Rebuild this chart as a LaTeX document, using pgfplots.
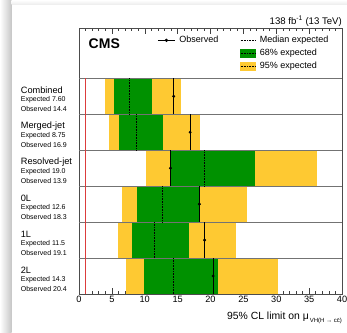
\documentclass[border=0pt]{standalone}
\usepackage{fontspec}
\setmainfont{Liberation Sans}
\usepackage{pgfplots}
\pgfplotsset{compat=1.18}
\definecolor{cmsgreen}{RGB}{0,145,0}
\definecolor{cmsyellow}{RGB}{254,201,50}
\definecolor{lred}{RGB}{220,60,60}
\newcommand{\catlabel}[4]{%
  \node[anchor=west, inner sep=0pt, font=\fontsize{9.2}{10}\selectfont] at (axis cs:-8.87,#1.66) {#2};
  \node[anchor=west, inner sep=0pt, font=\fontsize{7}{8}\selectfont] at (axis cs:-8.87,#1.40) {Expected #3};
  \node[anchor=west, inner sep=0pt, font=\fontsize{7}{8}\selectfont] at (axis cs:-8.87,#1.15) {Observed #4};}
\begin{document}
\begin{tikzpicture}[x=1pt,y=1pt]
\useasboundingbox (0,0) rectangle (347,332);
\fill[white] (0,0) rectangle (347,332);
\shade[left color=white, right color=black!22] (0,0) rectangle (11.5,332);
\shade[top color=white, bottom color=black!8] (11.5,332) rectangle (347,327);
\begin{axis}[
  at={(79pt,38pt)}, anchor=south west,
  scale only axis, width=263pt, height=266pt,
  xmin=0, xmax=40, ymin=0, ymax=7.40,
  clip=false,
  axis line style={black!70, line width=0.6pt},
  xtick={0,5,...,40}, minor x tick num=4,
  ytick={1,2,3,4,5,6}, yticklabels={},
  tick align=inside, xtick pos=both, ytick pos=both,
  major tick length=6pt, minor tick length=3pt,
  tick style={black!75, line width=0.5pt},
  ytick style={black!60},
  xticklabel style={font=\fontsize{9.2}{10}\selectfont, inner sep=1pt, yshift=-1pt},
  /pgf/number format/assume math mode=true,
  legend columns=2,
  legend style={at={(0.298,0.974)}, anchor=north west, draw=none, fill=none,
    font=\fontsize{9}{10}\selectfont, row sep=2.6pt, inner sep=0pt,
    nodes={inner sep=1pt, text height=6.6pt, text depth=1.8pt},
    /tikz/every odd column/.append style={column sep=3pt},
    /tikz/every even column/.append style={column sep=21pt}},
  legend cell align=left,
]
% 95% bands
\addplot[fill=cmsyellow, draw=none, forget plot] coordinates {(3.95,5) (15.5,5) (15.5,6) (3.95,6)} -- cycle;
\addplot[fill=cmsyellow, draw=none, forget plot] coordinates {(4.56,4) (18.4,4) (18.4,5) (4.56,5)} -- cycle;
\addplot[fill=cmsyellow, draw=none, forget plot] coordinates {(10.14,3) (36.25,3) (36.25,4) (10.14,4)} -- cycle;
\addplot[fill=cmsyellow, draw=none, forget plot] coordinates {(6.59,2) (25.55,2) (25.55,3) (6.59,3)} -- cycle;
\addplot[fill=cmsyellow, draw=none, forget plot] coordinates {(5.98,1) (23.9,1) (23.9,2) (5.98,2)} -- cycle;
\addplot[fill=cmsyellow, draw=none, forget plot] coordinates {(7.15,0) (30.2,0) (30.2,1) (7.15,1)} -- cycle;
% 68% bands
\addplot[fill=cmsgreen, draw=none, forget plot] coordinates {(5.37,5) (11.06,5) (11.06,6) (5.37,6)} -- cycle;
\addplot[fill=cmsgreen, draw=none, forget plot] coordinates {(6.08,4) (12.8,4) (12.8,5) (6.08,5)} -- cycle;
\addplot[fill=cmsgreen, draw=none, forget plot] coordinates {(13.84,3) (26.8,3) (26.8,4) (13.84,4)} -- cycle;
\addplot[fill=cmsgreen, draw=none, forget plot] coordinates {(8.87,2) (18.3,2) (18.3,3) (8.87,3)} -- cycle;
\addplot[fill=cmsgreen, draw=none, forget plot] coordinates {(8.1,1) (16.8,1) (16.8,2) (8.1,2)} -- cycle;
\addplot[fill=cmsgreen, draw=none, forget plot] coordinates {(9.89,0) (21.2,0) (21.2,1) (9.89,1)} -- cycle;
% separators
\addplot[black!55, line width=0.6pt, forget plot] coordinates {(0,1) (40,1)};
\addplot[black!55, line width=0.6pt, forget plot] coordinates {(0,2) (40,2)};
\addplot[black!55, line width=0.6pt, forget plot] coordinates {(0,3) (40,3)};
\addplot[black!55, line width=0.6pt, forget plot] coordinates {(0,4) (40,4)};
\addplot[black!55, line width=0.6pt, forget plot] coordinates {(0,5) (40,5)};
\addplot[black!55, line width=0.6pt, forget plot] coordinates {(0,6) (40,6)};
% SM line
\addplot[lred, line width=0.6pt, forget plot] coordinates {(1,0) (1,6)};
% medians
\addplot[black, densely dotted, line width=0.6pt, forget plot] coordinates {(7.60,5) (7.60,6)};
\addplot[black, densely dotted, line width=0.6pt, forget plot] coordinates {(8.75,4) (8.75,5)};
\addplot[black, densely dotted, line width=0.6pt, forget plot] coordinates {(19.0,3) (19.0,4)};
\addplot[black, densely dotted, line width=0.6pt, forget plot] coordinates {(12.6,2) (12.6,3)};
\addplot[black, densely dotted, line width=0.6pt, forget plot] coordinates {(11.5,1) (11.5,2)};
\addplot[black, densely dotted, line width=0.6pt, forget plot] coordinates {(14.3,0) (14.3,1)};
% observed
\addplot[black, line width=0.7pt, forget plot] coordinates {(14.4,5) (14.4,6)};
\addplot[black, line width=0.7pt, forget plot] coordinates {(16.9,4) (16.9,5)};
\addplot[black, line width=0.7pt, forget plot] coordinates {(13.9,3) (13.9,4)};
\addplot[black, line width=0.7pt, forget plot] coordinates {(18.3,2) (18.3,3)};
\addplot[black, line width=0.7pt, forget plot] coordinates {(19.1,1) (19.1,2)};
\addplot[black, line width=0.7pt, forget plot] coordinates {(20.4,0) (20.4,1)};
\addplot[only marks, mark=*, mark size=1.3pt, black, forget plot] coordinates {(14.4,5.5) (16.9,4.5) (13.9,3.5) (18.3,2.5) (19.1,1.5) (20.4,0.5)};
% legend
\addlegendimage{black, line width=0.7pt, legend image code/.code={
  \draw[black, line width=0.7pt] (0pt,0pt) -- (17pt,0pt);
  \fill[black] (8.5pt,0pt) circle (1.3pt);}}
\addlegendentry{Observed}
\addlegendimage{legend image code/.code={
  \draw[black, densely dotted, line width=0.6pt] (0pt,0pt) -- (15pt,0pt);}}
\addlegendentry{Median expected}
\addlegendimage{empty legend}\addlegendentry{}
\addlegendimage{legend image code/.code={
  \fill[cmsgreen] (0pt,-4pt) rectangle (15pt,4pt);
  \draw[black, densely dotted, line width=0.6pt] (0pt,0pt) -- (15pt,0pt);}}
\addlegendentry{68\% expected}
\addlegendimage{empty legend}\addlegendentry{}
\addlegendimage{legend image code/.code={
  \fill[cmsyellow] (0pt,-4pt) rectangle (15pt,4pt);
  \draw[black, densely dotted, line width=0.6pt] (0pt,0pt) -- (15pt,0pt);}}
\addlegendentry{95\% expected}
% CMS label
\node[anchor=west, font=\fontsize{14}{14}\selectfont\bfseries, inner sep=0pt] at (axis cs:1.45,6.97) {CMS};
% category labels
\catlabel{5}{Combined}{7.60}{14.4}
\catlabel{4}{Merged-jet}{8.75}{16.9}
\catlabel{3}{Resolved-jet}{19.0}{13.9}
\catlabel{2}{0L}{12.6}{18.3}
\catlabel{1}{1L}{11.5}{19.1}
\catlabel{0}{2L}{14.3}{20.4}
\end{axis}
% title and x label
\node[anchor=base east, inner sep=0pt, font=\fontsize{9.6}{10}\selectfont] at (342,307.5) {138 fb\textsuperscript{-1} (13 TeV)};
\node[anchor=base east, inner sep=0pt, font=\fontsize{10.4}{11}\selectfont] at (342,13) {95\% CL limit on μ\raisebox{-3.5pt}{\fontsize{6}{6}\selectfont\,VH(H → c\=c)}};
\end{tikzpicture}
\end{document}
